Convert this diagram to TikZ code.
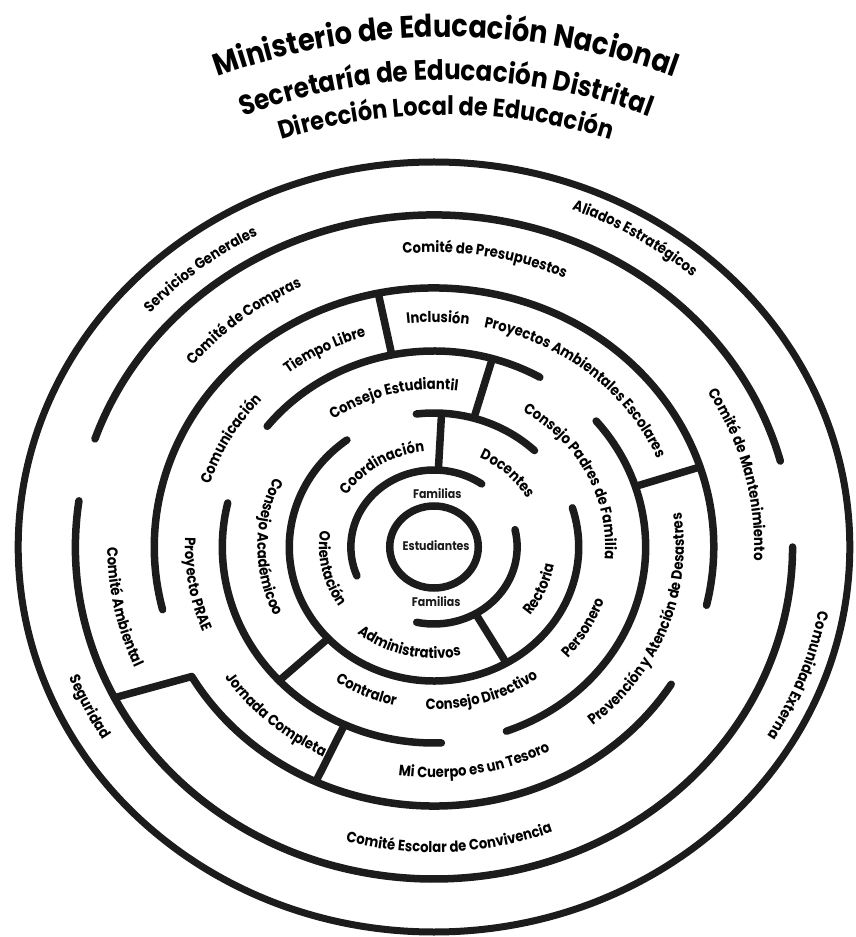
\documentclass[tikz,border=0pt]{standalone}
\usepackage{fontspec}
\setmainfont{Poppins}[FakeStretch=0.88]
\usepackage{tikz}
\usetikzlibrary{decorations.text}
\definecolor{ink}{RGB}{28,28,28}

\newcommand{\lblfont}{\fontsize{15}{16}\selectfont\bfseries}
\newcommand{\ttlfont}[1]{\fontsize{#1}{#1}\selectfont\bfseries}
% bent labels: centre angle, centre radius, text
\newcommand{\cwtext}[3]{%
  \pgfmathsetmacro{\sa}{#1+80}\pgfmathsetmacro{\ea}{#1-80}\pgfmathsetmacro{\rr}{#2-5.5}%
  \path[decorate, decoration={text along path, text align=center, text={|\lblfont|#3}}]
    (\sa:\rr) arc[start angle=\sa, end angle=\ea, radius=\rr];}
\newcommand{\ccwtext}[3]{%
  \pgfmathsetmacro{\sa}{#1-80}\pgfmathsetmacro{\ea}{#1+80}\pgfmathsetmacro{\rr}{#2+5.5}%
  \path[decorate, decoration={text along path, text align=center, text={|\lblfont|#3}}]
    (\sa:\rr) arc[start angle=\sa, end angle=\ea, radius=\rr];}

\begin{document}
\begin{tikzpicture}[
    x=1.08pt, y=1pt,
    ring/.style={draw=ink, line width=7.5pt, line cap=round},
    bar/.style={draw=ink, line width=7.5pt},
    flat/.style={font=\fontsize{12.5}{13}\selectfont\bfseries, text=ink, inner sep=0pt}
]
\useasboundingbox (-434pt,-390pt) rectangle (422pt,547pt);

% rings
\draw[ring] (0,0) circle[radius=41];
\draw[ring] (55:77) arc[start angle=55, end angle=202, radius=77];
\draw[ring] (-102:77) arc[start angle=-102, end angle=13, radius=77];
\draw[ring] (46:134) arc[start angle=46, end angle=97, radius=134];
\draw[ring] (127:134) arc[start angle=127, end angle=377, radius=134];
\draw[ring] (167:196) arc[start angle=167, end angle=272, radius=196];
\draw[ring] (-70:196) arc[start angle=-70, end angle=40, radius=196];
\draw[ring] (60:196) arc[start angle=60, end angle=142, radius=196];
\draw[ring] (-13:259) arc[start angle=-13, end angle=194, radius=259];
\draw[ring] (15:332) arc[start angle=15, end angle=161, radius=332];
\draw[ring] (172:332) arc[start angle=172, end angle=360, radius=332];
\draw[ring, line width=7pt] (0,0) circle[radius=385];

% walls between rings
\coordinate (famtop) at (87:77);     \coordinate (coordtop) at (87:134);
\coordinate (fambot) at (-60:77);    \coordinate (coordbot) at (-60:134);
\coordinate (doctop) at (74:134);    \coordinate (consejotop) at (74:196);
\coordinate (orient) at (223:134);   \coordinate (contral) at (223:196);
\coordinate (estud) at (101.5:196);  \coordinate (inclu) at (101.5:259);
\coordinate (padres) at (18:196);    \coordinate (prev) at (18:259);
\coordinate (direct) at (245:196);   \coordinate (jorn) at (245:259);
\coordinate (ambout) at (207:332);   \coordinate (ambin) at (210:259);
\draw[bar] (famtop) -- (coordtop);
\draw[bar] (fambot) -- (coordbot);
\draw[bar] (doctop) -- (consejotop);
\draw[bar] (orient) -- (contral);
\draw[bar] (estud) -- (inclu);
\draw[bar] (padres) -- (prev);
\draw[bar] (direct) -- (jorn);
\draw[ring, line join=round] (ambout) -- (ambin) arc[start angle=210, end angle=328, radius=259];

% centre
\node[flat] (estudiantes) at (2,1) {Estudiantes};
\node[flat] (familiasup) at (3,53) {Familias};
\node[flat] (familiasdown) at (2,-55) {Familias};

% labels read clockwise
\cwtext{130}{357}{Servicios Generales}
\cwtext{130}{293}{Comité de Compras}
\cwtext{119}{225}{Tiempo Libre}
\cwtext{152}{222}{Comunicación}
\cwtext{105}{163}{Consejo Estudiantil}
\cwtext{123}{101}{Coordinación}
\cwtext{89}{230}{Inclusión}
\cwtext{80}{300}{Comité de Presupuestos}
\cwtext{57}{366}{Aliados Estratégicos}
\cwtext{49}{230}{Proyectos Ambientales Escolares}
\cwtext{26}{164}{Consejo Padres de Familia}
\cwtext{45}{104}{Docentes}
\cwtext{13.5}{302}{Comité de Mantenimiento}
\cwtext{-19.5}{367}{Comunidad Externa}

% labels read counter-clockwise
\ccwtext{-22}{107}{Rectoria}
\ccwtext{-28.6}{161}{Personero}
\ccwtext{-20}{226}{Prevención y Atención de Desastres}
\ccwtext{-72}{157}{Consejo Directivo}
\ccwtext{-79.5}{225}{Mi Cuerpo es un Tesoro}
\ccwtext{-87}{300}{Comité Escolar de Convivencia}
\ccwtext{-104}{106}{Administrativos}
\ccwtext{-115}{157}{Contralor}
\ccwtext{-133}{228}{Jornada Completa}
\ccwtext{-155}{357}{Seguridad}
\ccwtext{191}{297}{Comité Ambiental}
\ccwtext{189}{225}{Proyecto PRAE}
\ccwtext{180}{158}{Consejo Académicoo}
\ccwtext{192}{101}{Orientación}

% titles
\path[decorate, decoration={text along path, text align=center, text={|\ttlfont{31}|Ministerio de Educación Nacional}}]
  ([shift={(11,-70)}]135:580) arc[start angle=135, end angle=45, radius=580];
\path[decorate, decoration={text along path, text align=center, text={|\ttlfont{28}|Secretaría de Educación Distrital}}]
  ([shift={(11,-33)}]135:500) arc[start angle=135, end angle=45, radius=500];
\path[decorate, decoration={text along path, text align=center, text={|\ttlfont{25.5}|Dirección Local de Educación}}]
  ([shift={(11,-48)}]135:480) arc[start angle=135, end angle=45, radius=480];
\end{tikzpicture}
\end{document}
